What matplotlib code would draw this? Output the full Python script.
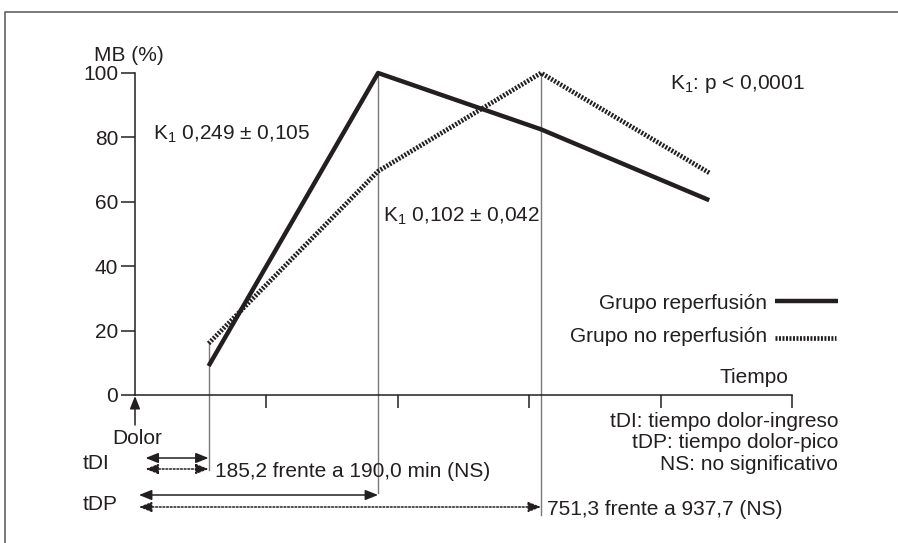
import matplotlib
matplotlib.use("Agg")
import matplotlib.pyplot as plt
from matplotlib import transforms

plt.rcParams['font.family'] = ['Liberation Sans', 'DejaVu Sans']
plt.rcParams['mathtext.fontset'] = 'custom'
plt.rcParams['mathtext.rm'] = 'Liberation Sans'
plt.rcParams['mathtext.it'] = 'Liberation Sans:italic'

# ---- data ----
time_points = [0.56, 1.85, 3.09, 4.37]
reperfusion = [9, 100, 82.5, 60.5]
no_reperfusion = [16, 69.5, 100, 69]
y_ticks = [0, 20, 40, 60, 80, 100]
x_ticks = [1, 2, 3, 4, 5]
label_reperf = "Grupo reperfusión"
label_noreperf = "Grupo no reperfusión"

W, H = 898, 543
INK = '#231f20'
GREY = '#7a7a7a'
FS = 15
DOT = (0, (0.42, 0.32))

fig = plt.figure(figsize=(W / 100, H / 100), dpi=100)
fig.patch.set_facecolor('white')
ax = fig.add_axes([135 / W, (H - 395) / H, (792 - 135) / W, (395 - 73) / H])
ax.set_xlim(0, 5)
ax.set_ylim(0, 100)
ax.patch.set_alpha(0)
for s in ['top', 'right']:
    ax.spines[s].set_visible(False)
for s in ['left', 'bottom']:
    ax.spines[s].set_linewidth(1.1)
    ax.spines[s].set_color(INK)
ax.set_yticks(y_ticks)
ax.set_yticklabels([str(v) for v in y_ticks], fontsize=FS, color=INK)
ax.set_xticks(x_ticks)
ax.set_xticklabels([])
ax.tick_params(axis='y', direction='out', length=10, width=1.1, color=INK, pad=2)
ax.tick_params(axis='x', direction='out', length=9.5, width=1.1, color=INK)

# pixel transform (x from left, y from top)
pxT = transforms.Affine2D().scale(1, -1).translate(0, H)
xdata_ypx = transforms.blended_transform_factory(ax.transData, pxT)

# frame
fig.add_artist(plt.Line2D([5, 5, W + 5], [H + 5, 12, 12], transform=pxT,
                          color='#6d6e71', lw=1.3))

# vertical guide lines
ax.plot([time_points[0]] * 2, [no_reperfusion[0], -23.3], color=GREY, lw=1.0, clip_on=False, zorder=1)
ax.plot([time_points[1]] * 2, [reperfusion[1], -30.4], color=GREY, lw=1.0, clip_on=False, zorder=1)
ax.plot([time_points[2]] * 2, [no_reperfusion[2], -37.3], color=GREY, lw=1.0, clip_on=False, zorder=1)

# main lines
ax.plot(time_points, reperfusion, color=INK, lw=3.2, solid_capstyle='butt', clip_on=False, zorder=3)
ax.plot(time_points, no_reperfusion, color=INK, lw=3.4, linestyle=DOT,
        dash_capstyle='butt', clip_on=False, zorder=3)

# texts
ax.text(94, 61, "MB (%)", transform=pxT, fontsize=FS, color=INK, va='baseline', ha='left')
ax.text(153, 140, r"K$_1$ 0,249 ± 0,105", transform=pxT, fontsize=FS, color=INK, va='baseline')
ax.text(383, 222, r"K$_1$ 0,102 ± 0,042", transform=pxT, fontsize=FS, color=INK, va='baseline')
ax.text(670, 89, r"K$_1$: p < 0,0001", transform=pxT, fontsize=FS, color=INK, va='baseline')
ax.text(767, 309, label_reperf, transform=pxT, fontsize=FS, color=INK, va='baseline', ha='right')
ax.text(767, 342, label_noreperf, transform=pxT, fontsize=FS, color=INK, va='baseline', ha='right')
ax.plot([775, 838], [300.5, 300.5], transform=pxT, color=INK, lw=3.2, solid_capstyle='butt', clip_on=False)
ax.plot([775, 836], [337.5, 337.5], transform=pxT, color=INK, lw=3.4, linestyle=DOT,
        dash_capstyle='butt', clip_on=False)
ax.text(788, 383, "Tiempo", transform=pxT, fontsize=FS, color=INK, va='baseline', ha='right')
ax.text(838, 427, "tDI: tiempo dolor-ingreso", transform=pxT, fontsize=FS, color=INK, va='baseline', ha='right')
ax.text(838, 448, "tDP: tiempo dolor-pico", transform=pxT, fontsize=FS, color=INK, va='baseline', ha='right')
ax.text(838, 470, "NS: no significativo", transform=pxT, fontsize=FS, color=INK, va='baseline', ha='right')
ax.text(112, 444, "Dolor", transform=pxT, fontsize=FS, color=INK, va='baseline')
ax.text(83, 469, "tDI", transform=pxT, fontsize=FS, color=INK, va='baseline')
ax.text(83, 510, "tDP", transform=pxT, fontsize=FS, color=INK, va='baseline')
ax.text(215, 477, "185,2 frente a 190,0 min (NS)", transform=pxT, fontsize=FS, color=INK, va='baseline')
ax.text(547, 515, "751,3 frente a 937,7 (NS)", transform=pxT, fontsize=FS, color=INK, va='baseline')

# arrows
def dbl_arrow(x0, x1, ypx, dotted=False):
    ls = (0, (1.2, 1.2)) if dotted else '-'
    ax.annotate('', xy=(x1, ypx), xytext=(x0, ypx), xycoords=xdata_ypx, textcoords=xdata_ypx,
                arrowprops=dict(arrowstyle='<|-|>,head_length=0.7,head_width=0.28', lw=1.1,
                                color=INK, linestyle=ls, shrinkA=0, shrinkB=0,
                                mutation_scale=11), annotation_clip=False)

dbl_arrow(0.08, time_points[0], 458)
dbl_arrow(0.08, time_points[0], 469, dotted=True)
dbl_arrow(0.03, time_points[1], 495)
dbl_arrow(0.03, time_points[2], 507, dotted=True)

ax.annotate('', xy=(0, 396), xytext=(0, 425), xycoords=xdata_ypx, textcoords=xdata_ypx,
            arrowprops=dict(arrowstyle='-|>,head_length=0.7,head_width=0.28', lw=1.1, color=INK,
                            shrinkA=0, shrinkB=0, mutation_scale=11), annotation_clip=False)

fig.savefig("out.png", dpi=100)
